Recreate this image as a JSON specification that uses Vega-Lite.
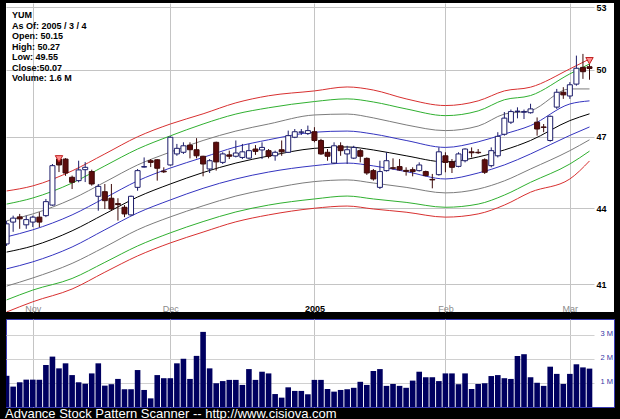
{
  "$schema": "https://vega.github.io/schema/vega-lite/v6.json",
  "background": "black",
  "padding": {"left": 5, "right": 7, "top": 3, "bottom": 0},
  "config": {"view": {"stroke": null}, "font": "Liberation Sans"},
  "title": {"text": "Advance Stock Pattern Scanner -- http://www.cisiova.com", "orient": "bottom", "anchor": "start", "color": "white", "fontSize": 13, "fontWeight": "normal", "font": "Liberation Sans", "offset": 0},
  "spacing": 5,
  "datasets": {
    "candles": [
      {"date":"2004-10-26","open":42.56,"high":43.48,"low":42.48,"close":43.36,"volume":1300000},
      {"date":"2004-10-27","open":43.43,"high":43.69,"low":43.04,"close":43.59,"volume":850000},
      {"date":"2004-10-28","open":43.64,"high":43.76,"low":43.16,"close":43.56,"volume":1030000},
      {"date":"2004-10-29","open":43.32,"high":43.69,"low":43.16,"close":43.53,"volume":1140000},
      {"date":"2004-11-01","open":43.43,"high":43.69,"low":43.23,"close":43.63,"volume":1140000},
      {"date":"2004-11-02","open":43.63,"high":43.83,"low":43.23,"close":43.43,"volume":1140000},
      {"date":"2004-11-03","open":43.69,"high":44.37,"low":43.63,"close":44.26,"volume":1750000},
      {"date":"2004-11-04","open":44.12,"high":45.83,"low":44.09,"close":45.76,"volume":2100000},
      {"date":"2004-11-05","open":46.04,"high":46.17,"low":45.49,"close":45.79,"volume":1610000},
      {"date":"2004-11-08","open":46.04,"high":46.08,"low":45.33,"close":45.45,"volume":1820000},
      {"date":"2004-11-09","open":45.27,"high":45.34,"low":44.78,"close":45.06,"volume":1330000},
      {"date":"2004-11-10","open":45.13,"high":45.97,"low":45.06,"close":45.58,"volume":1030000},
      {"date":"2004-11-11","open":45.59,"high":45.91,"low":45.07,"close":45.69,"volume":970000},
      {"date":"2004-11-12","open":45.51,"high":45.59,"low":44.92,"close":44.99,"volume":1400000},
      {"date":"2004-11-15","open":44.48,"high":44.99,"low":43.89,"close":44.89,"volume":1820000},
      {"date":"2004-11-16","open":44.67,"high":44.99,"low":43.96,"close":44.30,"volume":890000},
      {"date":"2004-11-17","open":44.40,"high":44.99,"low":43.89,"close":43.96,"volume":950000},
      {"date":"2004-11-18","open":44.18,"high":44.40,"low":43.49,"close":44.14,"volume":1170000},
      {"date":"2004-11-19","open":44.03,"high":44.12,"low":43.63,"close":43.76,"volume":740000},
      {"date":"2004-11-22","open":43.72,"high":44.51,"low":43.69,"close":44.48,"volume":740000},
      {"date":"2004-11-23","open":44.85,"high":45.62,"low":44.71,"close":45.55,"volume":1540000},
      {"date":"2004-11-24","open":45.70,"high":46.11,"low":45.68,"close":45.72,"volume":710000},
      {"date":"2004-11-26","open":45.97,"high":46.04,"low":45.70,"close":45.90,"volume":360000},
      {"date":"2004-11-29","open":46.01,"high":46.04,"low":45.13,"close":45.65,"volume":1330000},
      {"date":"2004-11-30","open":45.53,"high":45.69,"low":45.45,"close":45.50,"volume":1200000},
      {"date":"2004-12-01","open":45.79,"high":47.02,"low":45.76,"close":46.98,"volume":1200000},
      {"date":"2004-12-02","open":46.26,"high":46.69,"low":46.18,"close":46.50,"volume":1820000},
      {"date":"2004-12-03","open":46.33,"high":46.76,"low":46.26,"close":46.61,"volume":2010000},
      {"date":"2004-12-06","open":46.64,"high":46.76,"low":46.07,"close":46.44,"volume":1170000},
      {"date":"2004-12-07","open":46.44,"high":46.94,"low":46.07,"close":46.18,"volume":2130000},
      {"date":"2004-12-08","open":46.16,"high":46.18,"low":45.31,"close":45.83,"volume":3130000},
      {"date":"2004-12-09","open":45.62,"high":46.04,"low":45.45,"close":45.97,"volume":1610000},
      {"date":"2004-12-10","open":46.76,"high":46.79,"low":45.55,"close":45.92,"volume":990000},
      {"date":"2004-12-13","open":45.90,"high":46.33,"low":45.83,"close":46.26,"volume":1080000},
      {"date":"2004-12-14","open":46.22,"high":46.40,"low":46.04,"close":46.16,"volume":1130000},
      {"date":"2004-12-15","open":46.16,"high":46.84,"low":46.11,"close":46.30,"volume":1130000},
      {"date":"2004-12-16","open":46.11,"high":46.69,"low":46.04,"close":46.35,"volume":920000},
      {"date":"2004-12-17","open":46.08,"high":46.69,"low":46.04,"close":46.40,"volume":1580000},
      {"date":"2004-12-20","open":46.47,"high":46.64,"low":46.22,"close":46.37,"volume":1130000},
      {"date":"2004-12-21","open":46.43,"high":46.76,"low":46.04,"close":46.54,"volume":1470000},
      {"date":"2004-12-22","open":46.40,"high":46.47,"low":46.07,"close":46.16,"volume":1400000},
      {"date":"2004-12-23","open":46.18,"high":46.40,"low":45.97,"close":46.33,"volume":540000},
      {"date":"2004-12-27","open":46.44,"high":46.84,"low":46.18,"close":46.35,"volume":390000},
      {"date":"2004-12-28","open":46.33,"high":47.27,"low":46.30,"close":47.05,"volume":820000},
      {"date":"2004-12-29","open":46.98,"high":47.34,"low":46.94,"close":47.22,"volume":670000},
      {"date":"2004-12-30","open":47.20,"high":47.34,"low":47.08,"close":47.21,"volume":670000},
      {"date":"2004-12-31","open":47.14,"high":47.49,"low":47.08,"close":47.27,"volume":530000},
      {"date":"2005-01-03","open":47.22,"high":47.42,"low":46.76,"close":46.84,"volume":1130000},
      {"date":"2005-01-04","open":46.84,"high":46.91,"low":46.22,"close":46.26,"volume":1130000},
      {"date":"2005-01-05","open":46.33,"high":46.47,"low":45.97,"close":46.16,"volume":750000},
      {"date":"2005-01-06","open":45.87,"high":46.76,"low":45.83,"close":46.61,"volume":640000},
      {"date":"2005-01-07","open":46.61,"high":46.76,"low":46.18,"close":46.40,"volume":710000},
      {"date":"2005-01-10","open":46.26,"high":46.61,"low":45.83,"close":46.44,"volume":740000},
      {"date":"2005-01-11","open":46.08,"high":46.61,"low":46.04,"close":46.54,"volume":800000},
      {"date":"2005-01-12","open":46.40,"high":46.47,"low":45.90,"close":46.16,"volume":1050000},
      {"date":"2005-01-13","open":46.07,"high":46.11,"low":45.37,"close":45.45,"volume":920000},
      {"date":"2005-01-14","open":45.55,"high":45.62,"low":45.13,"close":45.20,"volume":1500000},
      {"date":"2005-01-18","open":44.85,"high":45.97,"low":44.78,"close":45.51,"volume":1580000},
      {"date":"2005-01-19","open":45.55,"high":46.33,"low":45.51,"close":45.97,"volume":880000},
      {"date":"2005-01-20","open":45.67,"high":46.07,"low":45.59,"close":45.65,"volume":960000},
      {"date":"2005-01-21","open":45.72,"high":46.04,"low":45.55,"close":45.58,"volume":880000},
      {"date":"2005-01-24","open":45.56,"high":45.69,"low":45.34,"close":45.52,"volume":800000},
      {"date":"2005-01-25","open":45.59,"high":45.69,"low":45.31,"close":45.51,"volume":1100000},
      {"date":"2005-01-26","open":45.55,"high":45.90,"low":45.51,"close":45.79,"volume":1470000},
      {"date":"2005-01-27","open":45.51,"high":45.55,"low":45.31,"close":45.34,"volume":1240000},
      {"date":"2005-01-28","open":45.18,"high":45.41,"low":44.81,"close":45.16,"volume":1240000},
      {"date":"2005-01-31","open":45.38,"high":46.54,"low":45.34,"close":46.35,"volume":1080000},
      {"date":"2005-02-01","open":46.18,"high":46.33,"low":45.48,"close":45.90,"volume":1400000},
      {"date":"2005-02-02","open":45.92,"high":46.04,"low":45.45,"close":45.69,"volume":1400000},
      {"date":"2005-02-03","open":45.73,"high":46.33,"low":45.69,"close":46.26,"volume":950000},
      {"date":"2005-02-04","open":45.97,"high":46.50,"low":45.90,"close":46.47,"volume":1400000},
      {"date":"2005-02-07","open":46.35,"high":46.54,"low":46.11,"close":46.31,"volume":750000},
      {"date":"2005-02-08","open":46.33,"high":46.47,"low":46.26,"close":46.31,"volume":960000},
      {"date":"2005-02-09","open":46.01,"high":46.07,"low":45.41,"close":45.48,"volume":990000},
      {"date":"2005-02-10","open":45.76,"high":46.54,"low":45.69,"close":46.40,"volume":1290000},
      {"date":"2005-02-11","open":46.18,"high":47.20,"low":46.11,"close":47.02,"volume":1330000},
      {"date":"2005-02-14","open":47.11,"high":48.09,"low":47.05,"close":47.82,"volume":1200000},
      {"date":"2005-02-15","open":47.64,"high":48.20,"low":47.56,"close":48.11,"volume":1170000},
      {"date":"2005-02-16","open":48.11,"high":48.30,"low":47.81,"close":48.13,"volume":2130000},
      {"date":"2005-02-17","open":48.08,"high":48.20,"low":47.78,"close":48.11,"volume":2200000},
      {"date":"2005-02-18","open":48.06,"high":48.46,"low":48.02,"close":48.23,"volume":1240000},
      {"date":"2005-02-22","open":47.64,"high":47.85,"low":47.05,"close":47.34,"volume":1010000},
      {"date":"2005-02-23","open":47.43,"high":47.56,"low":47.20,"close":47.41,"volume":880000},
      {"date":"2005-02-24","open":46.84,"high":47.93,"low":46.79,"close":47.90,"volume":1680000},
      {"date":"2005-02-25","open":48.31,"high":49.13,"low":48.23,"close":48.98,"volume":1380000},
      {"date":"2005-02-28","open":48.98,"high":49.21,"low":48.68,"close":48.86,"volume":960000},
      {"date":"2005-03-01","open":48.81,"high":49.44,"low":48.68,"close":49.32,"volume":1380000},
      {"date":"2005-03-02","open":49.35,"high":50.67,"low":49.28,"close":50.08,"volume":1780000},
      {"date":"2005-03-03","open":50.12,"high":50.75,"low":49.59,"close":49.92,"volume":1650000},
      {"date":"2005-03-04","open":50.15,"high":50.27,"low":49.55,"close":50.07,"volume":1600000}
    ],
    "bands": [
      {"date":"2004-10-26","redU":44.70,"greenU":44.16,"grayU":43.48,"blueU":42.84,"mid":42.24,"blueL":41.59,"grayL":40.93,"greenL":40.41,"redL":39.96},
      {"date":"2004-11-01","redU":44.91,"greenU":44.41,"grayU":43.76,"blueU":43.12,"mid":42.48,"blueL":41.86,"grayL":41.24,"greenL":40.78,"redL":40.34},
      {"date":"2004-11-09","redU":45.54,"greenU":45.03,"grayU":44.37,"blueU":43.72,"mid":43.08,"blueL":42.44,"grayL":41.80,"greenL":41.22,"redL":40.82},
      {"date":"2004-11-16","redU":46.26,"greenU":45.75,"grayU":45.07,"blueU":44.41,"mid":43.76,"blueL":43.12,"grayL":42.44,"greenL":41.84,"redL":41.46},
      {"date":"2004-11-23","redU":47.00,"greenU":46.47,"grayU":45.79,"blueU":45.12,"mid":44.45,"blueL":43.80,"grayL":43.12,"greenL":42.48,"redL":42.09},
      {"date":"2004-12-01","redU":47.56,"greenU":47.04,"grayU":46.34,"blueU":45.66,"mid":44.99,"blueL":44.33,"grayL":43.64,"greenL":43.00,"redL":42.60},
      {"date":"2004-12-08","redU":48.01,"greenU":47.56,"grayU":46.84,"blueU":46.11,"mid":45.47,"blueL":44.81,"grayL":44.09,"greenL":43.45,"redL":43.03},
      {"date":"2004-12-15","redU":48.50,"greenU":48.00,"grayU":47.25,"blueU":46.56,"mid":45.87,"blueL":45.20,"grayL":44.49,"greenL":43.84,"redL":43.44},
      {"date":"2004-12-22","redU":48.82,"greenU":48.28,"grayU":47.56,"blueU":46.87,"mid":46.17,"blueL":45.49,"grayL":44.78,"greenL":44.12,"redL":43.72},
      {"date":"2005-01-03","redU":49.04,"greenU":48.56,"grayU":47.96,"blueU":47.20,"mid":46.50,"blueL":45.76,"grayL":45.09,"greenL":44.37,"redL":43.99},
      {"date":"2005-01-10","redU":49.22,"greenU":48.68,"grayU":48.00,"blueU":47.25,"mid":46.56,"blueL":45.87,"grayL":45.16,"greenL":44.49,"redL":44.08},
      {"date":"2005-01-14","redU":49.08,"greenU":48.54,"grayU":47.83,"blueU":47.12,"mid":46.43,"blueL":45.75,"grayL":45.03,"greenL":44.37,"redL":43.96},
      {"date":"2005-01-24","redU":48.68,"greenU":48.23,"grayU":47.52,"blueU":46.84,"mid":46.18,"blueL":45.51,"grayL":44.85,"greenL":44.23,"redL":43.83},
      {"date":"2005-02-01","redU":48.38,"greenU":47.93,"grayU":47.27,"blueU":46.54,"mid":45.92,"blueL":45.20,"grayL":44.62,"greenL":44.03,"redL":43.63},
      {"date":"2005-02-08","redU":48.59,"greenU":48.14,"grayU":47.47,"blueU":46.78,"mid":46.13,"blueL":45.45,"grayL":44.78,"greenL":44.16,"redL":43.76},
      {"date":"2005-02-14","redU":49.04,"greenU":48.64,"grayU":48.00,"blueU":47.12,"mid":46.43,"blueL":45.79,"grayL":45.12,"greenL":44.53,"redL":44.12},
      {"date":"2005-02-18","redU":49.21,"greenU":48.83,"grayU":48.15,"blueU":47.49,"mid":46.84,"blueL":46.26,"grayL":45.62,"greenL":45.06,"redL":44.65},
      {"date":"2005-03-01","redU":50.05,"greenU":49.82,"grayU":49.13,"blueU":48.45,"mid":47.71,"blueL":47.06,"grayL":46.40,"greenL":45.83,"redL":45.20},
      {"date":"2005-03-04","redU":50.51,"greenU":50.28,"grayU":49.13,"blueU":48.59,"mid":48.01,"blueL":47.43,"grayL":46.87,"greenL":46.38,"redL":45.96}
    ],
    "signals": [
      {"date":"2004-11-05","price":46.05},
      {"date":"2005-03-04","price":50.43}
    ]
  },
  "vconcat": [
    {
      "width": 608,
      "height": 309,
      "view": {"fill": "white", "stroke": null},
      "title": {"text": ["YUM", "As Of: 2005 / 3 / 4", "Open: 50.15", "High: 50.27", "Low: 49.55", "Close:50.07", "Volume: 1.6 M"], "anchor": "start", "frame": "group", "orient": "top", "offset": -80, "baseline": "top", "fontSize": 9, "fontWeight": "bold", "font": "Liberation Sans", "color": "#000000", "lineHeight": 10.5, "dx": 6},
      "encoding": {
        "x": {
          "field": "date", "type": "ordinal",
          "scale": {"type": "point", "range": [0.6, 583.5], "padding": 0},
          "axis": {
            "orient": "bottom",
            "values": ["2004-11-01", "2004-12-01", "2005-01-03", "2005-02-01", "2005-03-01"],
            "labelExpr": "datum.value == '2005-01-03' ? '2005' : datum.value == '2004-11-01' ? 'Nov' : datum.value == '2004-12-01' ? 'Dec' : datum.value == '2005-02-01' ? 'Feb' : 'Mar'",
            "grid": true, "gridColor": "#c4c4c4", "gridWidth": 1,
            "ticks": false, "domain": false,
            "labelPadding": -4, "labelBaseline": "middle", "labelAngle": 0, "labelFontSize": 9, "labelFont": "Liberation Sans",
            "labelColor": {"condition": {"test": "datum.value == '2005-01-03'", "value": "#000000"}, "value": "#8a8a8a"},
            "labelFontWeight": {"condition": {"test": "datum.value == '2005-01-03'", "value": "bold"}, "value": "normal"},
            "labelOverlap": false, "labelFlush": false, "labelBound": false,
            "title": null
          }
        }
      },
      "layer": [
        {
          "data": {"name": "bands"},
          "transform": [{"fold": ["redU", "greenU", "grayU", "blueU", "mid", "blueL", "grayL", "greenL", "redL"], "as": ["line", "v"]}],
          "mark": {"type": "line", "interpolate": "monotone", "strokeWidth": 1, "clip": true},
          "encoding": {
            "y": {
              "field": "v", "type": "quantitative",
              "scale": {"type": "log", "domain": [39.96, 53.2], "nice": false, "zero": false},
              "axis": {
                "orient": "left", "values": [41, 44, 47, 50, 53], "format": "d",
                "grid": false, "domain": false, "ticks": true, "tickSize": -588, "tickColor": "#c4c4c4", "tickWidth": 1,
                "labelPadding": -2, "labelAlign": "left", "labelBaseline": "middle",
                "labelFontSize": 9, "labelFontWeight": "bold", "labelColor": "#000000", "labelFont": "Liberation Sans",
                "labelOverlap": false, "labelFlush": false, "labelBound": false,
                "title": null
              }
            },
            "color": {
              "field": "line", "type": "nominal", "legend": null,
              "scale": {
                "domain": ["redU", "greenU", "grayU", "blueU", "mid", "blueL", "grayL", "greenL", "redL"],
                "range": ["#d83030", "#30b030", "#7c7c7c", "#3434c0", "#000000", "#3434c0", "#7c7c7c", "#30b030", "#d83030"]
              }
            },
            "detail": {"field": "line"}
          }
        },
        {
          "data": {"name": "candles"},
          "mark": {"type": "rule", "strokeWidth": 1, "clip": true},
          "encoding": {
            "y": {"field": "low", "type": "quantitative"},
            "y2": {"field": "high"},
            "color": {"condition": {"test": "datum.close >= datum.open", "value": "#1c1c6a"}, "value": "#3c0a0a"}
          }
        },
        {
          "data": {"name": "candles"},
          "mark": {"type": "bar", "size": 5, "strokeWidth": 1, "clip": true},
          "encoding": {
            "y": {"field": "open", "type": "quantitative"},
            "y2": {"field": "close"},
            "fill": {"condition": {"test": "datum.close >= datum.open", "value": "#ffffff"}, "value": "#5c0c0c"},
            "stroke": {"condition": {"test": "datum.close >= datum.open", "value": "#1c1c6a"}, "value": "#3c0a0a"}
          }
        },
        {
          "data": {"name": "signals"},
          "mark": {"type": "point", "shape": "triangle-down", "filled": true, "size": 55, "fill": "#ff8c8c", "stroke": "#c02020", "strokeWidth": 1, "opacity": 1},
          "encoding": {
            "y": {"field": "price", "type": "quantitative"}
          }
        }
      ]
    },
    {
      "width": 608,
      "height": 88,
      "view": {"fill": "white", "stroke": "#3a3ab4", "strokeWidth": 1},
      "data": {"name": "candles"},
      "mark": {"type": "bar", "size": 5.6, "color": "#000060", "clip": true},
      "encoding": {
        "x": {
          "field": "date", "type": "ordinal",
          "scale": {"type": "point", "range": [0.6, 583.5], "padding": 0},
          "axis": {
            "orient": "bottom",
            "values": ["2004-11-01", "2004-12-01", "2005-01-03", "2005-02-01", "2005-03-01"],
            "grid": true, "gridColor": "#c4c4c4", "ticks": false, "domain": false, "labels": false, "title": null
          }
        },
        "y": {
          "field": "volume", "type": "quantitative",
          "scale": {"domain": [0, 3667000], "nice": false, "zero": true},
          "axis": {
            "orient": "left", "values": [1000000, 2000000, 3000000],
            "labelExpr": "(datum.value / 1000000) + ' M'",
            "grid": false, "domain": false, "ticks": true, "tickSize": -588, "tickColor": "#d0d0d0",
            "labelPadding": -6, "labelAlign": "left", "labelBaseline": "middle", "labelOffset": -2,
            "labelFontSize": 7.5, "labelColor": "#3636a6", "labelFont": "Liberation Sans",
            "labelOverlap": false, "labelFlush": false, "labelBound": false,
            "title": null
          }
        }
      }
    }
  ]
}
